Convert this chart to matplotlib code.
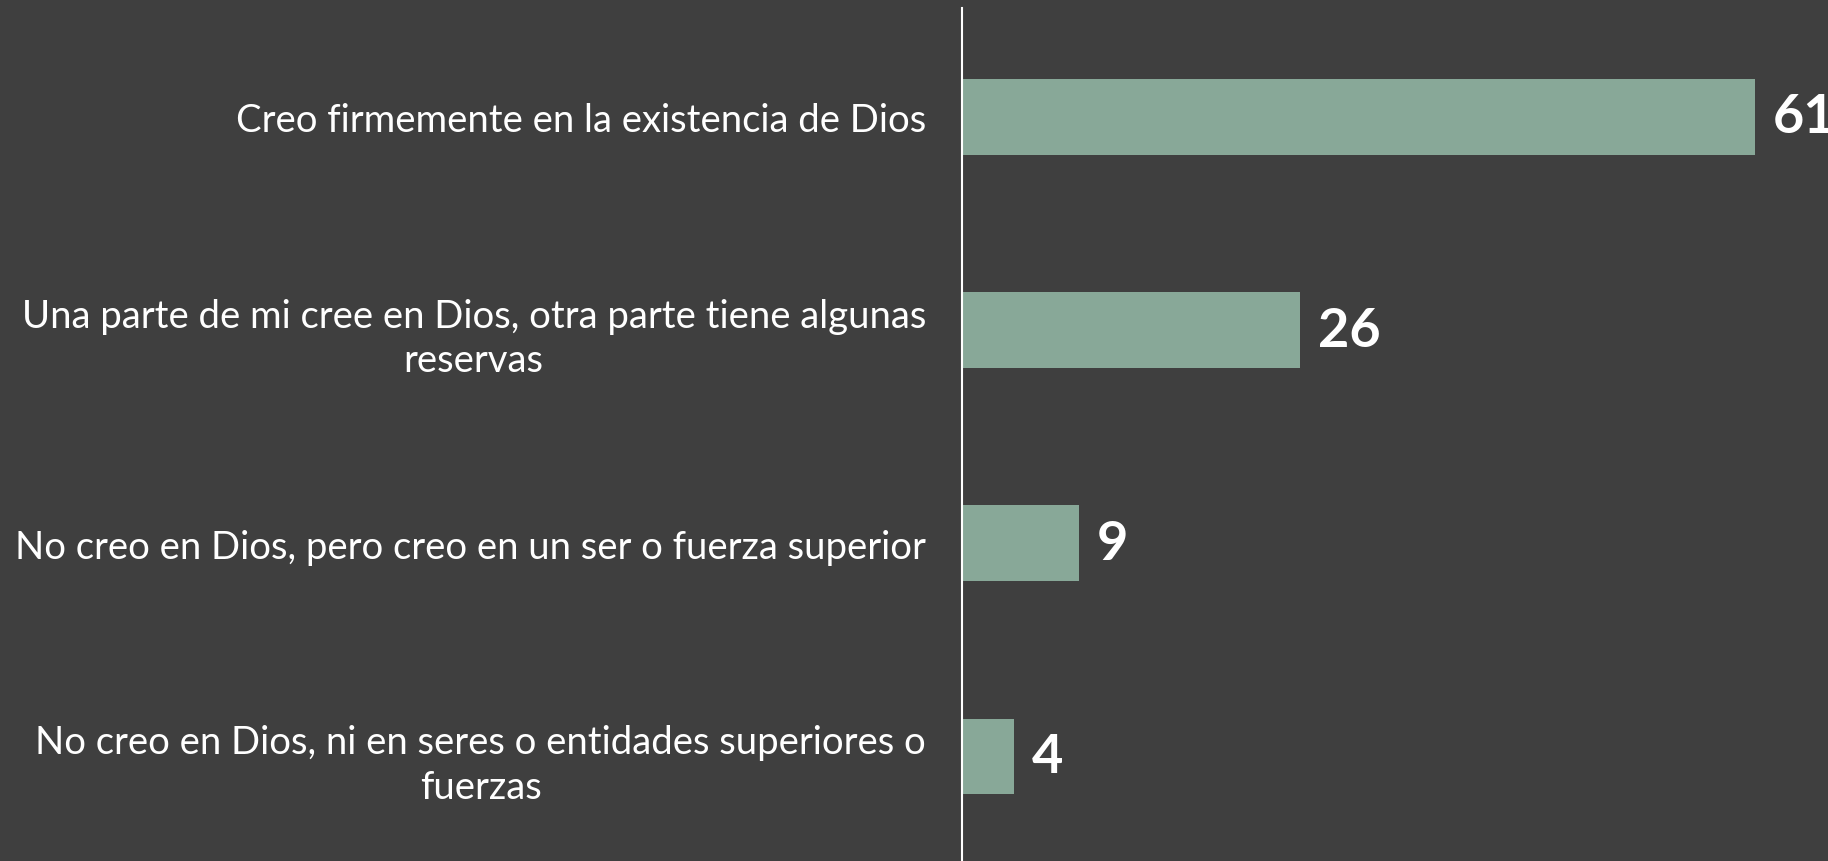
import matplotlib
matplotlib.use('Agg')
import matplotlib.pyplot as plt

# Data
categories = [
    'Creo firmemente en la existencia de Dios',
    'Una parte de mi cree en Dios, otra parte tiene algunas\nreservas',
    'No creo en Dios, pero creo en un ser o fuerza superior',
    'No creo en Dios, ni en seres o entidades superiores o\nfuerzas',
]
values = [61, 26, 9, 4]

BG = '#3f3f3f'
BAR = '#88a898'

plt.rcParams['font.family'] = ['Lato', 'DejaVu Sans']

fig = plt.figure(figsize=(18.28, 8.62), dpi=100, facecolor=BG)
ax = fig.add_axes([962 / 1828, 0.0, 1 - 962 / 1828, 1 - 9 / 862])
ax.set_facecolor(BG)

y = list(range(len(categories)))
bars = ax.barh(y, values, height=0.356, color=BAR)
ax.set_ylim(3.49, -0.51)
ax.set_xlim(0, 866 / 13)

for s in ['top', 'right', 'bottom']:
    ax.spines[s].set_visible(False)
ax.spines['left'].set_color('white')
ax.spines['left'].set_linewidth(1.5)
ax.set_xticks([])
ax.set_yticks(y)
ax.set_yticklabels(categories, fontsize=27.5, color='white', ha='right',
                   multialignment='center', linespacing=1.3)
ax.tick_params(axis='y', length=0, pad=26)

for b, v in zip(bars, values):
    ax.text(b.get_width() + 1.4, b.get_y() + b.get_height() / 2, str(v),
            color='white', fontsize=39, fontweight='bold', va='center',
            ha='left', clip_on=False)

fig.savefig('out.png', dpi=100, facecolor=BG)
